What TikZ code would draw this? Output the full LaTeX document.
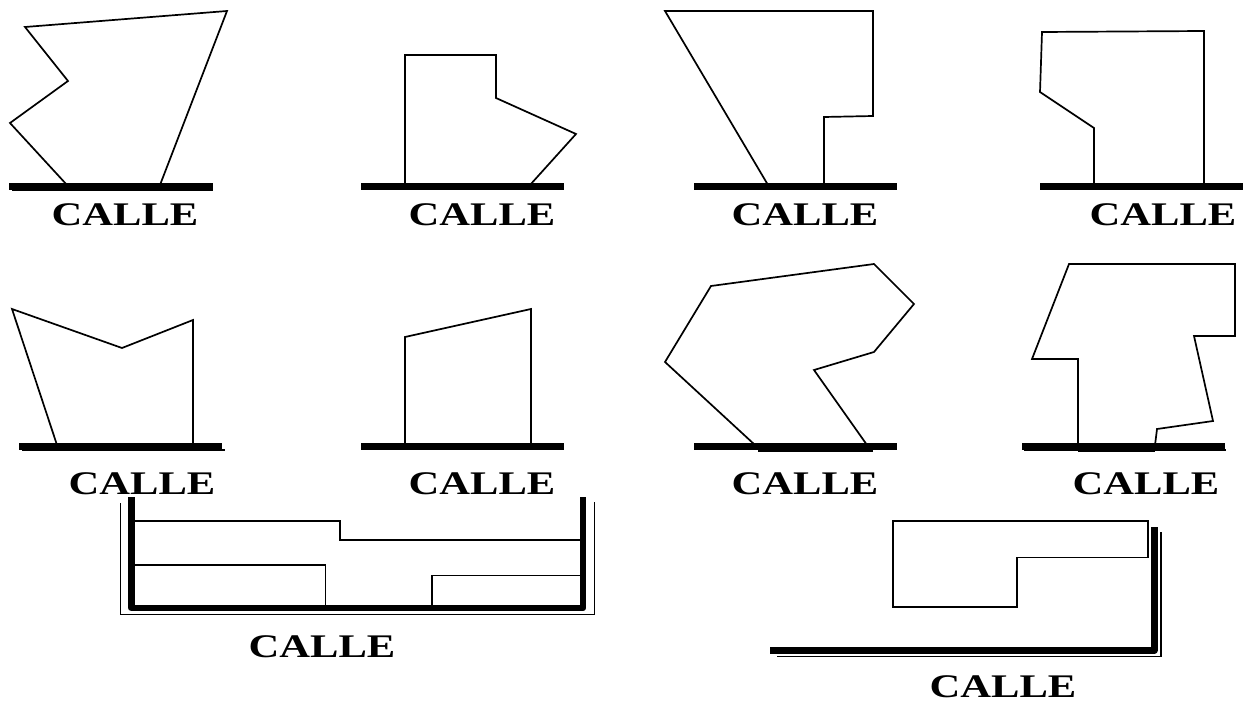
\documentclass[tikz,border=0pt]{standalone}
\usepackage{fontspec}
\newfontfamily\callefont[FakeStretch=1.29]{Liberation Serif}
\tikzset{
  lot/.style={draw=black,line width=1.7pt,line join=miter},
  street/.style={draw=black,line width=7pt},
  thinstreet/.style={draw=black,line width=1.2pt},
  calle/.style={font=\callefont\bfseries\fontsize{33}{33}\selectfont,inner sep=0pt,anchor=center,text=black}
}
\begin{document}
\begin{tikzpicture}[x=1pt,y=-1pt]
\useasboundingbox (0,0) rectangle (1246,703);
% shadows of streets (thin offset lines)
\draw[draw=black,line width=1.2pt] (12,190.5) -- (213,190.5);
\draw[draw=black,line width=1.2pt] (22,450) -- (225,450);
\draw[draw=black,line width=1.2pt] (1024,450) -- (1226,450);
% streets
\draw[street] (9,186.5) -- (213,186.5);
\draw[street] (361,186.5) -- (564,186.5);
\draw[street] (694,186.5) -- (897,186.5);
\draw[street] (1040,186.5) -- (1243,186.5);
\draw[street] (19,446) -- (222,446);
\draw[street] (361,446) -- (564,446);
\draw[street] (694,446) -- (897,446);
\draw[draw=black,line width=3pt] (758,450.5) -- (873,450.5);
\draw[street] (1022,446) -- (1225,446);
\draw[draw=black,line width=3pt] (1078,450.5) -- (1155,450.5);
% lots
\draw[lot] (67,185) -- (10,123) -- (68,81) -- (25,27) -- (227,11) -- (160,185);
\draw[lot] (405,185) -- (405,55) -- (496,55) -- (496,98) -- (576,134) -- (530,185);
\draw[lot] (768,185) -- (665,11) -- (873,11) -- (873,116) -- (824,117) -- (824,185);
\draw[lot] (1094,185) -- (1094,128) -- (1040,92) -- (1042,32) -- (1204,31) -- (1204,185);
\draw[lot] (57,445) -- (12,309) -- (122,348) -- (193,320) -- (193,445);
\draw[lot] (405,445) -- (405,337) -- (531,309) -- (531,445);
\draw[lot] (755,445) -- (665,362) -- (711,286) -- (874,264) -- (914,304) -- (874,352) -- (814,370) -- (867,445);
\draw[lot] (1078,445) -- (1078,359) -- (1032,359) -- (1069,264) -- (1235,264) -- (1235,336) -- (1194,336) -- (1213,421) -- (1157,429) -- (1155,445);
% U street
\draw[draw=black,line width=1.2pt] (120.5,503) -- (120.5,614.5) -- (594.5,614.5) -- (594.5,502);
\draw[draw=black,line width=6.5pt,line join=round] (131.5,497) -- (131.5,608) -- (583,608) -- (583,497);
\draw[lot] (134,521) -- (340,521) -- (340,540) -- (580,540);
\draw[lot] (134,565) -- (325.5,565) -- (325.5,606);
\draw[lot] (432,606) -- (432,575.5) -- (580,575.5);
% L street
\draw[draw=black,line width=1.4pt] (777,656.5) -- (1161,656.5) -- (1161,532);
\draw[draw=black,line width=7pt,line join=round] (770,650.5) -- (1154,650.5) -- (1154,527);
\draw[lot] (1148,521) -- (893,521) -- (893,607) -- (1017,607) -- (1017,557.5) -- (1148,557.5) -- cycle;
% labels
\node[calle] (c1) at (125,215) {CALLE};
\node[calle] (c2) at (482,215) {CALLE};
\node[calle] (c3) at (805,215) {CALLE};
\node[calle] (c4) at (1163,215) {CALLE};
\node[calle] (c5) at (142,484) {CALLE};
\node[calle] (c6) at (482,484) {CALLE};
\node[calle] (c7) at (805,484) {CALLE};
\node[calle] (c8) at (1146,484) {CALLE};
\node[calle] (c9) at (322,647) {CALLE};
\node[calle] (c10) at (1003,687) {CALLE};
\end{tikzpicture}
\end{document}
